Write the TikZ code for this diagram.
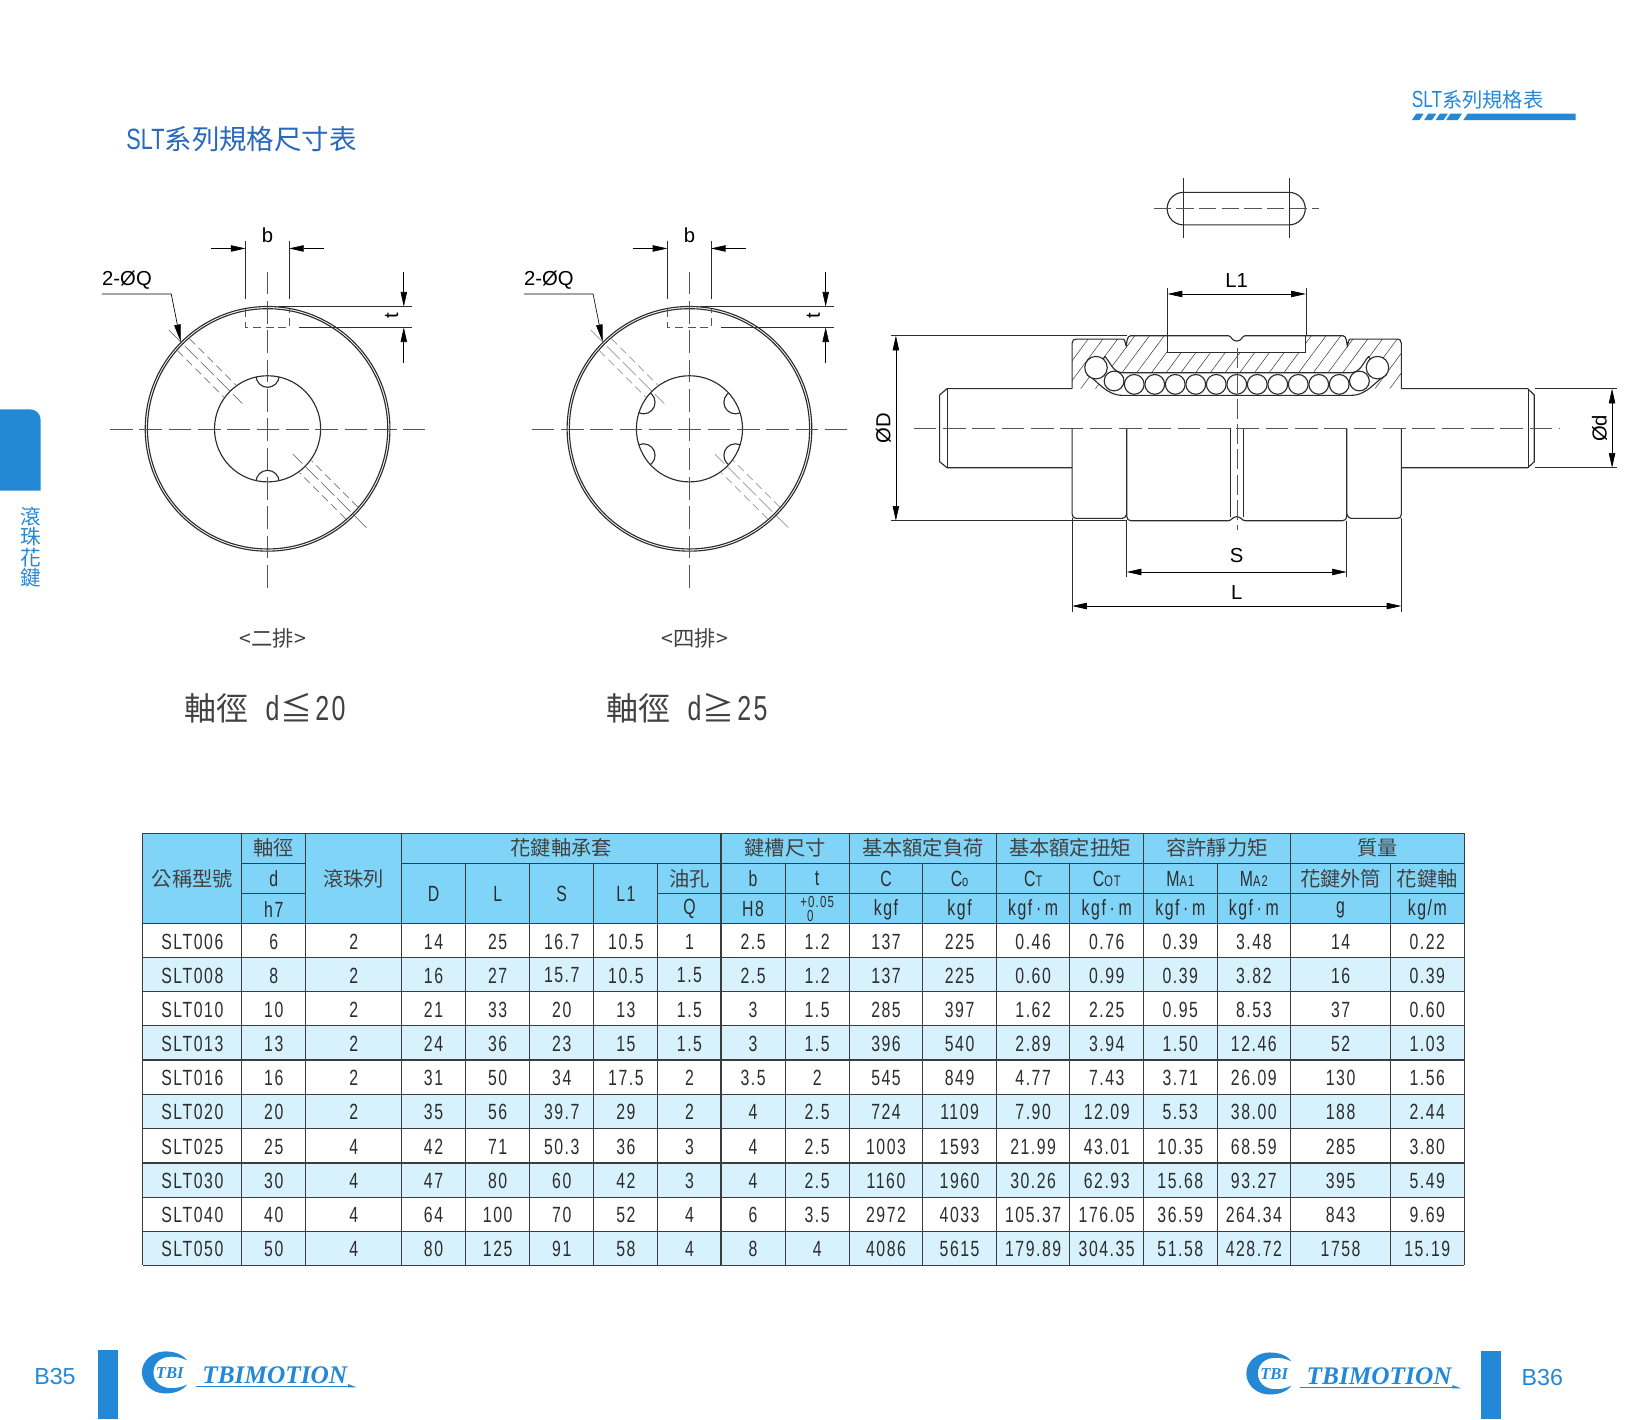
\documentclass[tikz,border=0pt]{standalone}
\usepackage{fontspec}
\usetikzlibrary{arrows.meta}
\setmainfont{Liberation Sans}
\newfontfamily\cjk{Noto Sans CJK TC}
\newfontfamily\tfn[FakeStretch=0.74]{Liberation Sans}
\newfontfamily\tf[FakeStretch=0.72,LetterSpace=7]{Liberation Sans}
\newfontfamily\logof[BoldItalicFont={Liberation Serif Bold Italic}]{Liberation Serif}
\definecolor{tbi}{RGB}{35,137,215}
\definecolor{ttl}{RGB}{40,105,190}
\definecolor{hdr}{RGB}{127,212,248}
\definecolor{alt}{RGB}{216,242,253}
\definecolor{ink}{RGB}{45,45,45}
\definecolor{cjkink}{RGB}{65,65,65}
\definecolor{grid}{RGB}{60,60,60}
\definecolor{ctrink}{RGB}{85,85,85}
\newcommand{\fs}[1]{\fontsize{#1pt}{#1pt}\selectfont}
\newcommand{\smc}[1]{{\fs{11.5}#1}}
\tikzset{
  mainln/.style={line width=0.85pt,draw=ink},
  thinln/.style={line width=0.4pt,draw=ink},
  ctr/.style={line width=0.35pt,draw=ctrink,dash pattern=on 17pt off 5pt},
  hid/.style={line width=0.35pt,draw=ctrink,dash pattern=on 6pt off 3.5pt},
  dimar/.style={line width=0.5pt,draw=black,-{Stealth[length=11pt,width=4.8pt,inset=0pt]}},
  dimboth/.style={line width=0.5pt,draw=black,{Stealth[length=11pt,width=4.8pt,inset=0pt]}-{Stealth[length=11pt,width=4.8pt,inset=0pt]}},
  dimlab/.style={font=\fs{15.2},text=black,inner sep=0pt},
  cell/.style={font=\fs{16.5}\tf,text=ink,inner sep=0pt},
  hcell/.style={font=\fs{15.2}\cjk,text=cjkink,inner sep=0pt},
}
% one end view: #1 centre x, #2 groove angles
\newcommand{\discview}[2]{%
\begin{scope}[shift={(#1,408)}]
  \draw[mainln] (0,0) circle (116.4);
  \draw[mainln] (0,0) circle (114.3);
  \draw[mainln] (0,0) circle (50.5);
  \begin{scope}
    \clip (0,0) circle (50.5);
    \foreach \a in {#2}{ \draw[mainln] ({50.5*cos(\a)},{50.5*sin(\a)}) circle (11); }
  \end{scope}
  \draw[ctr] (-150,0) -- (150,0);
  \draw[ctr] (0,-149.5) -- (0,151);
  % oil holes
  \draw[ctr,dash pattern=on 14pt off 3pt] (-94,-94) -- (-24,-24);
  \draw[ctr,dash pattern=on 14pt off 3pt] (94,94) -- (24,24);
  \foreach \s in {1,-1}{
    \draw[hid] ({\s*(-80+5.7)},{\s*(-80-5.7)}) -- ({\s*(-36+5.7)},{\s*(-36-5.7)});
    \draw[hid] ({\s*(-80-5.7)},{\s*(-80+5.7)}) -- ({\s*(-36-5.7)},{\s*(-36+5.7)});
  }
  % key seat
  \draw[hid] (-21,-114) -- (-21,-97) -- (21,-97) -- (21,-114);
  % dim b
  \draw[thinln] (-21,-178.5) -- (-21,-123.8);
  \draw[thinln] (20.4,-178.5) -- (20.4,-123.8);
  \draw[dimar] (-54,-171.6) -- (-21,-171.6);
  \draw[dimar] (53.6,-171.6) -- (20.4,-171.6);
  \node[dimlab] (blab) at (0,-184) {b};
  % dim t
  \draw[thinln] (9.7,-116.3) -- (137.4,-116.3);
  \draw[thinln] (29.9,-96.5) -- (137.4,-96.5);
  \draw[dimar] (129.6,-149.4) -- (129.6,-116.3);
  \draw[dimar] (129.6,-62.3) -- (129.6,-96.5);
  \node[dimlab,rotate=90] (tlab) at (118,-107.5) {t};
  % leader
  \node[dimlab,anchor=west] (qlab) at (-157.6,-141.5) {2-ØQ};
  \draw[dimar,-{Stealth[length=13pt,width=4.8pt,inset=0pt]}] (-157.6,-128.3) -- (-91.7,-128.3) -- (-82.6,-82.8);
\end{scope}}
\begin{document}
\begin{tikzpicture}[x=0.7883pt,y=-0.7883pt]
\useasboundingbox (0,0) rectangle (1568,1350.2);
\fill[white] (0,0) rectangle (1568,1350.2);

% ---- header marks
\node[anchor=west,inner sep=0pt,text=ttl] (title) at (120,132) {\fs{20.6}{\fs{22}\tfn SLT}\cjk 系列規格尺寸表};
\node[anchor=west,inner sep=0pt,text=tbi] (rtitle) at (1343,95) {\fs{15.2}{\fs{17.5}\tfn SLT}\cjk 系列規格表};
\fill[tbi] (1392.3,114.2) -- (1396.5,108.2) -- (1499.2,108.2) -- (1499.2,114.2) -- cycle;
\foreach \a/\b in {1343.5/1350.5,1355/1362.5,1366/1373.5,1376/1387}{
  \fill[tbi] (\a,114.2) -- (\a+4,108.2) -- (\b+4,108.2) -- (\b,114.2) -- cycle;
}
% ---- side tab
\fill[tbi] (0,389.5) -- (28.7,389.5) arc[start angle=-90,end angle=0,radius=10] -- (38.7,466.9) -- (0,466.9) -- cycle;
\foreach \y/\t in {491.6/滾,511/珠,531/花,550/鍵}{
  \node[inner sep=0pt,text=tbi,font=\fs{15.5}\cjk] at (29.2,\y) {\t};
}

% ---- end views
\discview{254.6}{-90,90}
\discview{656}{30,150,210,330}
\node[inner sep=0pt,text=cjkink,font=\fs{16}\cjk] (c1) at (259.5,607.5) {<二排>};
\node[inner sep=0pt,text=cjkink,font=\fs{16}\cjk] (c2) at (661,607.5) {<四排>};
\node[anchor=west,inner sep=0pt,text=cjkink] (d1) at (175,674) {\fs{24}\cjk 軸徑\hspace{13pt}{\fs{26}\tf d}\hspace{1pt}≦\hspace{2pt}{\fs{26}\tf 20}};
\node[anchor=west,inner sep=0pt,text=cjkink] (d2) at (576.5,674) {\fs{24}\cjk 軸徑\hspace{13pt}{\fs{26}\tf d}\hspace{1pt}≧\hspace{2pt}{\fs{26}\tf 25}};

% ---- key slot
\draw[mainln] (1126,183) -- (1226.4,183) arc[start angle=-90,end angle=90,radius=15.5] -- (1126,214) arc[start angle=90,end angle=270,radius=15.5] -- cycle;
\draw[thinln] (1126,169.7) -- (1126,226.7);
\draw[thinln] (1226.4,169.7) -- (1226.4,226.7);
\draw[ctr,dash pattern=on 13pt off 4pt] (1097.6,198.3) -- (1254.7,198.3);

% ---- side view
\begin{scope}[shift={(1176.7,0)}]
  % hatched section
  \begin{scope}
    \clip (-156.6,369.8) -- (-156.6,326.6) .. controls (-156.6,323.6) and (-155,322.6) .. (-152.6,322.6)
      -- (-108,322.6) .. controls (-106,323) and (-106,328) .. (-105.2,329)
      .. controls (-104.5,326) and (-104.5,319.4) .. (-101,319.4)
      -- (-65.8,319.4) -- (-65.8,335.2) -- (65.8,335.2) -- (65.8,319.4) -- (101,319.4)
      .. controls (104.5,319.4) and (104.5,326) .. (105.2,329)
      .. controls (106,328) and (106,323) .. (108,322.6) -- (152.6,322.6)
      .. controls (155,322.6) and (156.6,323.6) .. (156.6,326.6) -- (156.6,369.8) -- cycle;
    \foreach \h in {-30,-29,...,30}{
      \draw[line width=0.35pt,draw=ink] ({\h*14-30},380) -- ({\h*14+22},310);
    }
  \end{scope}
  % outline of section
  \draw[mainln] (-156.6,369.8) -- (-156.6,326.6) .. controls (-156.6,323.6) and (-155,322.6) .. (-152.6,322.6)
      -- (-108,322.6) .. controls (-106,323) and (-106,328) .. (-105.2,329)
      .. controls (-104.5,326) and (-104.5,319.4) .. (-101,319.4)
      -- (-8,319.4) .. controls (-5,319.4) and (-5,324.5) .. (0,324.5)
      .. controls (5,324.5) and (5,319.4) .. (8,319.4)
      -- (101,319.4) .. controls (104.5,319.4) and (104.5,326) .. (105.2,329)
      .. controls (106,328) and (106,323) .. (108,322.6) -- (152.6,322.6)
      .. controls (155,322.6) and (156.6,323.6) .. (156.6,326.6) -- (156.6,369.8);
  \draw[mainln] (-65.8,319.4) -- (-65.8,335.2) -- (65.8,335.2) -- (65.8,319.4);
  % ball track
  \draw[mainln,fill=white] (-107.9,354.6) -- (107.9,354.6) .. controls (118,354.6) and (120,345) .. (125.3,339.4)
     -- (142.2,356.8) .. controls (132,362) and (125,376.2) .. (108,376.2)
     -- (-108,376.2) .. controls (-125,376.2) and (-132,362) .. (-142.2,356.8)
     -- (-125.3,339.4) .. controls (-120,345) and (-118,354.6) .. (-107.9,354.6) -- cycle;
  \foreach \i in {-5,...,5}{ \draw[mainln,fill=white] ({\i*19.5},365.7) circle (9.4); }
  \foreach \s in {-1,1}{
    \draw[mainln,fill=white] ({\s*116.7},362.5) circle (9.4);
    \draw[mainln,fill=white] ({\s*133.9},349.8) circle (10.7);
  }
  % lower half
  \draw[mainln] (-104.7,407.6) -- (-104.7,491) .. controls (-104.7,494) and (-103,495.4) .. (-100.7,495.4)
     -- (-8,495.4) .. controls (-5,495.4) and (-4,491.6) .. (0,491.6) .. controls (4,491.6) and (5,495.4) .. (8,495.4)
     -- (100.7,495.4) .. controls (103,495.4) and (104.7,494) .. (104.7,491) -- (104.7,407.6);
  \draw[mainln] (-156.6,407.6) -- (-156.6,489.2) .. controls (-156.6,492) and (-155,493.2) .. (-152.6,493.2)
     -- (-109,493.2) .. controls (-107,493.2) and (-105.5,492) .. (-104.7,489);
  \draw[mainln] (156.6,407.6) -- (156.6,489.2) .. controls (156.6,492) and (155,493.2) .. (152.6,493.2)
     -- (109,493.2) .. controls (107,493.2) and (105.5,492) .. (104.7,489);
  \draw[thinln] (-6.2,407.6) -- (-6.2,491.6);
  \draw[thinln] (6.2,407.6) -- (6.2,491.6);
  \draw[ctr,dash pattern=on 15pt off 4pt] (0,331) -- (0,504.3);
\end{scope}
% shaft
\draw[mainln] (1020.1,369.8) -- (901,369.8) -- (894,375.8) -- (894,439.3) -- (901,445) -- (1020.1,445);
\draw[mainln] (1333.3,369.8) -- (1453.6,369.8) -- (1459.8,375.8) -- (1459.8,439.3) -- (1453.6,445) -- (1333.3,445);
\draw[thinln] (901,369.8) -- (901,445);
\draw[thinln] (1453.6,369.8) -- (1453.6,445);
\draw[ctr] (869.4,407.6) -- (1484.4,407.6);

% dims on the side view
\draw[mainln] (847.6,319.4) -- (1072,319.4);
\draw[mainln] (847.6,495.4) -- (1072,495.4);
\draw[dimboth] (852.4,319.4) -- (852.4,495.4);
\node[dimlab,rotate=90] (dD) at (840.5,407.6) {ØD};
\draw[mainln] (1460,369.8) -- (1538.6,369.8);
\draw[mainln] (1460,445) -- (1538.6,445);
\draw[dimboth] (1533.8,369.8) -- (1533.8,445);
\node[dimlab,rotate=90] (dd) at (1522,407.6) {Ød};
\draw[thinln] (1110.9,274.3) -- (1110.9,319.4);
\draw[thinln] (1242.4,274.3) -- (1242.4,319.4);
\draw[dimboth] (1110.9,279.7) -- (1242.4,279.7);
\node[dimlab] (dl1) at (1176.7,266.5) {L1};
\draw[thinln] (1072,495.4) -- (1072,548.7);
\draw[thinln] (1281.3,495.4) -- (1281.3,548.7);
\draw[dimboth] (1072,544.2) -- (1281.3,544.2);
\node[dimlab] (ds) at (1176.7,529) {S};
\draw[thinln] (1020.1,493.2) -- (1020.1,582);
\draw[thinln] (1333.3,493.2) -- (1333.3,582);
\draw[dimboth] (1020.1,576.6) -- (1333.3,576.6);
\node[dimlab] (dL) at (1176.7,563.5) {L};

% ---- table
\fill[hdr] (136,793) rectangle (1393,879);
\foreach \y in {911,976,1041,1106.5,1171.5}{ \fill[alt] (136,\y) rectangle (1393,\y+32.5); }
\begin{scope}[line width=0.8pt,draw=grid]
  \draw (136,793) -- (1393,793);
  \draw (230,821.5) -- (291,821.5);
  \draw (382,821.5) -- (1393,821.5);
  \draw (230,850.5) -- (291,850.5);
  \draw (626,850.5) -- (1393,850.5);
  \foreach \y in {879,911,943.5,976,1008.5,1041,1073.5,1106.5,1139,1171.5,1204}{ \draw (136,\y) -- (1393,\y); }
  \foreach \x in {136,230,291,382,686,808,948,1088,1228,1393}{ \draw (\x,793) -- (\x,1204); }
  \foreach \x in {443,504,565,626,747,878,1018,1158,1323}{ \draw (\x,821.5) -- (\x,1204); }
\end{scope}
% group headers
\node[hcell] (h1) at (183,836) {公稱型號};
\node[hcell] (h2) at (260.5,807) {軸徑};
\node[cell] (h3) at (260.5,836) {d};
\node[cell] (h4) at (260.5,865) {h7};
\node[hcell] (h5) at (336.5,836) {滾珠列};
\node[hcell] (h6) at (534,807) {花鍵軸承套};
\node[hcell] (h7) at (747,807) {鍵槽尺寸};
\node[hcell] (h8) at (878,807) {基本額定負荷};
\node[hcell] (h9) at (1018,807) {基本額定扭矩};
\node[hcell] (h10) at (1158,807) {容許靜力矩};
\node[hcell] (h11) at (1310.5,807) {質量};
\foreach \x/\t in {412.5/D,473.5/L,534.5/S,595.5/L1}{ \node[cell] at (\x,850.5) {\t}; }
\node[hcell] at (656,836) {油孔};
\node[cell] at (656,865) {Q};
\node[cell] at (716.5,836) {b};
\node[cell] at (716.5,865) {H8};
\node[cell] at (777.5,836) {t};
\node[cell,font=\fs{12}\tf] at (777.5,858) {+0.05};
\node[cell,font=\fs{12}\tf] at (771,871.5) {0};
\node[cell] at (843,836) {C};
\node[cell] at (913,836) {C\smc{o}};
\node[cell] at (983,836) {C\smc{T}};
\node[cell] at (1053,836) {C\smc{OT}};
\node[cell] at (1123,836) {M\smc{A1}};
\node[cell] at (1193,836) {M\smc{A2}};
\node[hcell] at (1275.5,836) {花鍵外筒};
\node[hcell] at (1358,836) {花鍵軸};
\foreach \x/\t in {843/kgf,913/kgf,983/{kgf\,·\,m},1053/{kgf\,·\,m},1123/{kgf\,·\,m},1193/{kgf\,·\,m},1275.5/g,1358/{kg/m}}{
  \node[cell] at (\x,865.5) {\t};
}
% data
\def\colx{{183,260.5,336.5,412.5,473.5,534.5,595.5,656,716.5,777.5,843,913,983,1053,1123,1193,1275.5,1358}}
\foreach \y/\vals in {
 895.8/{SLT006,6,2,14,25,16.7,10.5,1,2.5,1.2,137,225,0.46,0.76,0.39,3.48,14,0.22},
 928.1/{SLT008,8,2,16,27,15.7,10.5,1.5,2.5,1.2,137,225,0.60,0.99,0.39,3.82,16,0.39},
 960.6/{SLT010,10,2,21,33,20,13,1.5,3,1.5,285,397,1.62,2.25,0.95,8.53,37,0.60},
 993.1/{SLT013,13,2,24,36,23,15,1.5,3,1.5,396,540,2.89,3.94,1.50,12.46,52,1.03},
 1025.6/{SLT016,16,2,31,50,34,17.5,2,3.5,2,545,849,4.77,7.43,3.71,26.09,130,1.56},
 1058.1/{SLT020,20,2,35,56,39.7,29,2,4,2.5,724,1109,7.90,12.09,5.53,38.00,188,2.44},
 1090.8/{SLT025,25,4,42,71,50.3,36,3,4,2.5,1003,1593,21.99,43.01,10.35,68.59,285,3.80},
 1123.6/{SLT030,30,4,47,80,60,42,3,4,2.5,1160,1960,30.26,62.93,15.68,93.27,395,5.49},
 1156.1/{SLT040,40,4,64,100,70,52,4,6,3.5,2972,4033,105.37,176.05,36.59,264.34,843,9.69},
 1188.6/{SLT050,50,4,80,125,91,58,4,8,4,4086,5615,179.89,304.35,51.58,428.72,1758,15.19}}{
  \foreach \v [count=\i from 0] in \vals {
    \pgfmathsetmacro\cx{\colx[\i]}
    \node[cell] at (\cx,\y) {\v};
  }
}

% ---- footer
\node[inner sep=0pt,text=tbi,font=\fs{17.4}] (p35) at (52.3,1310) {B35};
\node[inner sep=0pt,text=tbi,font=\fs{17.4}] (p36) at (1467.5,1311) {B36};
\fill[tbi] (93,1284.5) rectangle (112,1350.2);
\fill[tbi] (1409.5,1285.4) rectangle (1428.5,1350.2);
\foreach \lx/\ly/\nm in {157/1305.8/la,1207.8/1306.8/lb}{
  \begin{scope}[shift={(\lx,\ly)}]
    \fill[tbi] (21,-11.5) .. controls (16,-18) and (8,-20) .. (0,-20)
      .. controls (-12,-20) and (-22,-11) .. (-22,0)
      .. controls (-22,11) and (-12,20) .. (0,20)
      .. controls (8,20) and (16,18) .. (21,11.5)
      .. controls (16,14) and (11,15) .. (6,15)
      .. controls (-4,15) and (-11,9) .. (-11,0)
      .. controls (-11,-9) and (-4,-15) .. (6,-15)
      .. controls (11,-15) and (16,-14) .. (21,-11.5) -- cycle;
    \node[inner sep=0pt,text=tbi,font=\fs{12.5}\logof\bfseries\itshape] (\nm t) at (4.5,1) {TBI};
    \node[anchor=west,inner sep=0pt,text=tbi,font=\fs{19}\logof\bfseries\itshape] (\nm m) at (35.2,2.5) {TBIMOTION};
    \fill[tbi] (29.2,13) rectangle (180,14.2);
    \fill[tbi] (174,11) -- (182.4,14.2) -- (174,14.2) -- cycle;
  \end{scope}
}
\end{tikzpicture}
\end{document}
